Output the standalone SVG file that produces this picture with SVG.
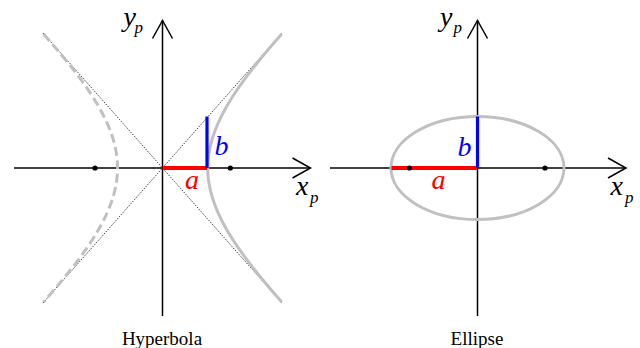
<svg xmlns="http://www.w3.org/2000/svg" width="640" height="348" viewBox="0 0 640 348">
<style>
.axis{stroke:#000;stroke-width:1.5;fill:none}
.asym{stroke:#000;stroke-width:1;stroke-dasharray:1 1.5;fill:none}
.curve{stroke:#c0c0c0;stroke-width:3;fill:none}
.dash{stroke-dasharray:9 4.5}
.ra{stroke:#ff0000;stroke-width:3.8}
.rb{stroke:#0000ff;stroke-width:3.2}
.focus{fill:#000}
.lab{font-family:"Liberation Serif","Times New Roman",serif;font-style:italic;font-size:28px}
.sub{font-family:"Liberation Serif","Times New Roman",serif;font-style:italic;font-size:17px}
.cap{font-family:"Liberation Serif","Times New Roman",serif;font-size:19px;text-anchor:middle}
</style>
<defs>
<marker id="arr" markerUnits="userSpaceOnUse" viewBox="-2 -12 22 24" markerWidth="22" markerHeight="24" refX="18" refY="0" orient="auto" overflow="visible">
<path d="M0,-10 L18,0 L0,10" fill="none" stroke="#000" stroke-width="1.5"/>
</marker>
</defs>

<g id="hyperbola">
<g id="hyp-asymptotes">
<line class="asym" x1="43" y1="33" x2="282" y2="303"/>
<line class="asym" x1="43" y1="303" x2="282" y2="33"/>
</g>
<g id="hyp-axes">
<line class="axis" x1="14" y1="168" x2="310.5" y2="168" marker-end="url(#arr)"/>
<line class="axis" x1="162.5" y1="316" x2="162.5" y2="20.5" marker-end="url(#arr)"/>
</g>
<path id="hyp-right" class="curve" d="M281.7,34 C183,145.4 183,190.6 281.7,302"/>
<path id="hyp-left" class="curve dash" d="M43.5,34 C142.2,145.4 142.2,190.6 43.5,302"/>
<line id="hyp-a" class="ra" x1="162.5" y1="168" x2="207" y2="168"/>
<line id="hyp-b" class="rb" x1="207" y1="168" x2="207" y2="116.5"/>
<circle class="focus" cx="95" cy="168" r="2.6"/>
<circle class="focus" cx="230.3" cy="168" r="2.6"/>
<text class="lab" x="123.5" y="26">y</text><text class="sub" x="134.5" y="33">p</text>
<text class="lab" x="296" y="194.5">x</text><text class="sub" x="310" y="202.5">p</text>
<text class="lab" x="214.5" y="154.5" fill="#0000ff">b</text>
<text class="lab" x="185" y="188.5" fill="#ff0000">a</text>
<text class="cap" x="162" y="345">Hyperbola</text>
</g>

<g id="ellipse">
<g id="ell-axes">
<line class="axis" x1="330" y1="168" x2="626" y2="168" marker-end="url(#arr)"/>
<line class="axis" x1="477.5" y1="316" x2="477.5" y2="20.5" marker-end="url(#arr)"/>
</g>
<ellipse class="curve" cx="477.5" cy="168" rx="86.5" ry="51.5"/>
<line id="ell-a" class="ra" x1="391.5" y1="168" x2="477.5" y2="168"/>
<line id="ell-b" class="rb" x1="477.5" y1="168" x2="477.5" y2="116.5"/>
<circle class="focus" cx="409.3" cy="168" r="2.6"/>
<circle class="focus" cx="545" cy="168" r="2.6"/>
<text class="lab" x="440" y="26">y</text><text class="sub" x="453.5" y="33">p</text>
<text class="lab" x="610.5" y="194.5">x</text><text class="sub" x="625" y="202.5">p</text>
<text class="lab" x="457.5" y="155.5" fill="#0000ff">b</text>
<text class="lab" x="431.5" y="188.5" fill="#ff0000">a</text>
<text class="cap" x="477" y="345">Ellipse</text>
</g>
</svg>
